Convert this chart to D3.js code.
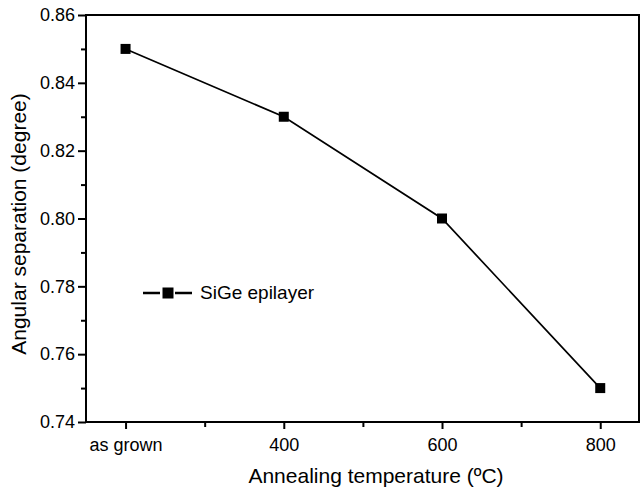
<!DOCTYPE html>
<html>
<head>
<meta charset="utf-8">
<script src="https://cdn.jsdelivr.net/npm/d3@7"></script>
<style>
  body { margin: 0; background: #fff; }
  text { font-family: "Liberation Sans", Arial, sans-serif; fill: #000; }
</style>
</head>
<body>
<div id="chart"></div>
<script>
var categories = ["as grown", "400", "600", "800"];
var separation = [0.85, 0.83, 0.80, 0.75];
var yTicks = [0.74, 0.76, 0.78, 0.80, 0.82, 0.84, 0.86];
var yMinorTicks = [0.75, 0.77, 0.79, 0.81, 0.83, 0.85];
var xMinorTicks = [0.5, 1.5, 2.5];
var seriesName = "SiGe epilayer";

var svgWidth = 640;
var svgHeight = 492;
var margin = { top: 15, right: 1, bottom: 70, left: 86 };
var width = svgWidth - margin.left - margin.right;
var height = svgHeight - margin.top - margin.bottom;

var svg = d3.select("#chart")
  .append("svg")
  .attr("width", svgWidth)
  .attr("height", svgHeight);

var chartGroup = svg.append("g")
  .attr("transform", `translate(${margin.left}, ${margin.top})`);

var xScale = d3.scaleLinear()
  .domain([-0.25, 3.245])
  .range([0, width]);

var yScale = d3.scaleLinear()
  .domain([0.74, 0.86])
  .range([height, 0]);

// frame
chartGroup.append("rect")
  .attr("width", width)
  .attr("height", height)
  .attr("fill", "none")
  .attr("stroke", "#000")
  .attr("stroke-width", 2);

// axes
var bottomAxis = d3.axisBottom(xScale)
  .tickValues(d3.range(categories.length))
  .tickFormat(i => categories[i])
  .tickSize(7)
  .tickPadding(9);

var leftAxis = d3.axisLeft(yScale)
  .tickValues(yTicks)
  .tickFormat(d3.format(".2f"))
  .tickSize(8)
  .tickPadding(3);

var xAxisG = chartGroup.append("g")
  .attr("transform", `translate(0, ${height})`)
  .call(bottomAxis);

var yAxisG = chartGroup.append("g")
  .call(leftAxis);

[xAxisG, yAxisG].forEach(function(g) {
  g.select(".domain").remove();
  g.selectAll("line").attr("stroke", "#000").attr("stroke-width", 2);
  g.selectAll("text").style("font-size", "18px").attr("font-family", null);
});

// minor ticks
chartGroup.append("g")
  .attr("transform", `translate(0, ${height})`)
  .call(d3.axisBottom(xScale).tickValues(xMinorTicks).tickFormat("").tickSize(5))
  .call(g => g.select(".domain").remove())
  .selectAll("line").attr("stroke", "#000").attr("stroke-width", 2);

chartGroup.append("g")
  .call(d3.axisLeft(yScale).tickValues(yMinorTicks).tickFormat("").tickSize(5))
  .call(g => g.select(".domain").remove())
  .selectAll("line").attr("stroke", "#000").attr("stroke-width", 2);

// line + markers
var line = d3.line()
  .x((d, i) => xScale(i))
  .y(d => yScale(d));

chartGroup.append("path")
  .datum(separation)
  .attr("d", line)
  .attr("fill", "none")
  .attr("stroke", "#000")
  .attr("stroke-width", 1.7);

chartGroup.selectAll(".pt")
  .data(separation)
  .enter()
  .append("rect")
  .attr("class", "pt")
  .attr("x", (d, i) => xScale(i) - 5)
  .attr("y", d => yScale(d) - 5)
  .attr("width", 10)
  .attr("height", 10)
  .attr("fill", "#000");

// legend
var legend = svg.append("g")
  .attr("transform", "translate(143, 293)");

legend.append("line")
  .attr("x1", 0).attr("x2", 49)
  .attr("y1", 0).attr("y2", 0)
  .attr("stroke", "#000")
  .attr("stroke-width", 2.5);

legend.append("rect")
  .attr("x", 17).attr("y", -7.5)
  .attr("width", 15).attr("height", 15)
  .attr("fill", "#fff");

legend.append("rect")
  .attr("x", 19.5).attr("y", -5.5)
  .attr("width", 11).attr("height", 11)
  .attr("fill", "#000");

legend.append("text")
  .attr("x", 57)
  .attr("y", 6)
  .style("font-size", "19px")
  .text(seriesName);

// axis titles
svg.append("text")
  .attr("transform", `translate(26, 224) rotate(-90)`)
  .attr("text-anchor", "middle")
  .style("font-size", "21px")
  .text("Angular separation (degree)");

svg.append("text")
  .attr("x", 376)
  .attr("y", 483)
  .attr("text-anchor", "middle")
  .style("font-size", "21px")
  .text("Annealing temperature (ºC)");
</script>
</body>
</html>
